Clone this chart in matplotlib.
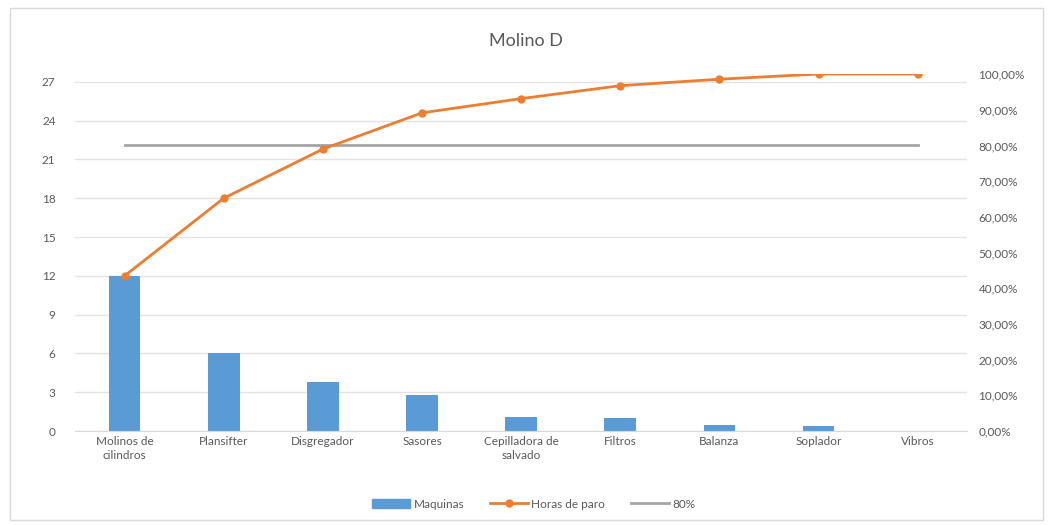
import matplotlib.pyplot as plt
from matplotlib.patches import Rectangle
from matplotlib.lines import Line2D
from matplotlib.ticker import FuncFormatter
import numpy as np

plt.rcParams['font.family'] = ['Lato', 'DejaVu Sans']

maquinas = ['Molinos de\ncilindros', 'Plansifter', 'Disgregador', 'Sasores',
            'Cepilladora de\nsalvado', 'Filtros', 'Balanza', 'Soplador', 'Vibros']
horas = [12, 6, 3.8, 2.8, 1.1, 1.0, 0.5, 0.4, 0.0]
limite = 0.80

total = sum(horas)
acumulado = np.cumsum(horas) / total

BLUE = '#5b9bd5'
ORANGE = '#ed7d31'
GRAY = '#a5a5a5'
TXT = '#595959'

fig = plt.figure(figsize=(10.51, 5.25), dpi=100)
ax = fig.add_axes([0.0714, 0.179, 0.849, 0.680])
ax2 = ax.twinx()

x = np.arange(len(maquinas))
ax.bar(x, horas, width=0.32, color=BLUE, zorder=2)
ax2.plot(x, acumulado, color=ORANGE, lw=2, marker='o', ms=5, zorder=3)
ax2.plot([x[0], x[-1]], [limite, limite], color=GRAY, lw=2, zorder=2)

ax.set_xlim(-0.5, len(maquinas) - 0.5)
ax.set_ylim(0, total)
ax.set_yticks(np.arange(0, 28, 3))
ax.set_xticks(x)
ax.set_xticklabels(maquinas, fontsize=8.5, color=TXT, linespacing=1.4)
ax.grid(axis='y', color='#e3e3e3', lw=1, zorder=0)
ax.set_axisbelow(True)

ax2.set_ylim(0, 1.0)
ax2.set_yticks(np.arange(0, 1.01, 0.1))
ax2.yaxis.set_major_formatter(FuncFormatter(lambda v, p: f'{v * 100:.2f}%'.replace('.', ',')))

for a in (ax, ax2):
    for s in a.spines.values():
        s.set_visible(False)
    a.tick_params(length=0, labelsize=8.5, labelcolor=TXT)
ax.tick_params(axis='y', pad=14)
ax2.tick_params(axis='y', pad=8)
ax.spines['bottom'].set_visible(True)
ax.spines['bottom'].set_color('#d9d9d9')

fig.text(0.5, 0.922, 'Molino D', ha='center', va='center', fontsize=13, color=TXT)

handles = [Rectangle((0, 0), 1, 1, color=BLUE),
           Line2D([], [], color=ORANGE, lw=2, marker='o', ms=5),
           Line2D([], [], color=GRAY, lw=2)]
fig.legend(handles, ['Maquinas', 'Horas de paro', '80%'], loc='center',
           bbox_to_anchor=(0.508, 0.04), ncol=3, frameon=False, fontsize=8.5,
           labelcolor=TXT, handlelength=3.2, columnspacing=2.2, handletextpad=0.3)

fig.patches.append(Rectangle((10 / 1051, 5 / 525), 1033 / 1051, 512 / 525,
                             transform=fig.transFigure, fill=False,
                             edgecolor='#d9d9d9', lw=1))

fig.savefig('out.png', dpi=100, facecolor='white')
